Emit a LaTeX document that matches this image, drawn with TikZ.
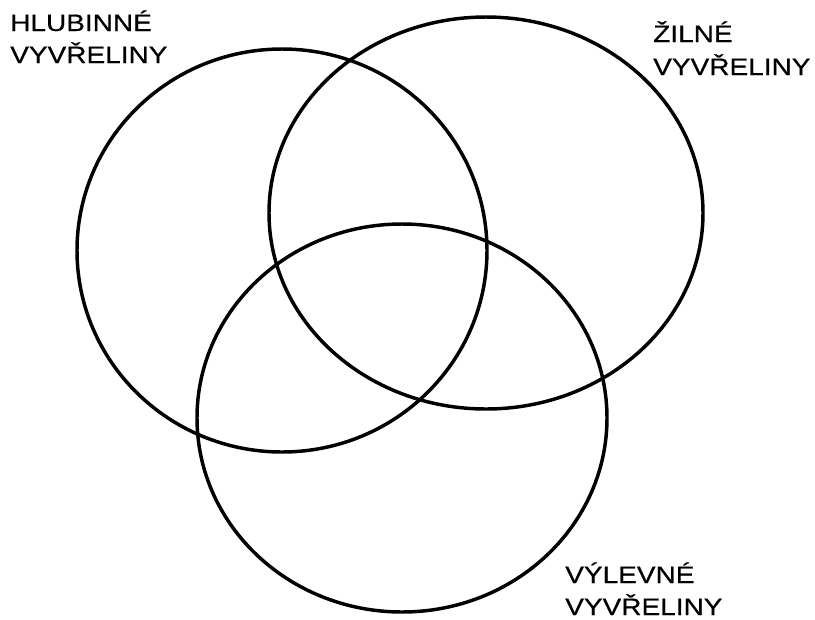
\documentclass[tikz,border=0pt]{standalone}
\usepackage{fontspec}
\setmainfont{Liberation Sans}[FakeStretch=1.18,FakeBold=0.6]
\begin{document}
\begin{tikzpicture}[x=0.75pt,y=-0.75pt,
  setring/.style={draw=black,line width=2.6pt},
  lbl/.style={anchor=base west,inner sep=0pt,font=\fontsize{17.8pt}{24pt}\selectfont}]
\useasboundingbox (0,0) rectangle (815,619);
\fill[white] (0,0) rectangle (815,619);
\draw[setring] (282,250.5) ellipse [x radius=205, y radius=201.5];
\draw[setring] (486,213) ellipse [x radius=217, y radius=196];
\draw[setring] (402,418) ellipse [x radius=205, y radius=194];
\node[lbl] (h1) at (10,31) {HLUBINNÉ};
\node[lbl] (h2) at (10,63) {VYVŘELINY};
\node[lbl] (z1) at (653,42) {ŽILNÉ};
\node[lbl] (z2) at (653,75) {VYVŘELINY};
\node[lbl] (v1) at (565,583) {VÝLEVNÉ};
\node[lbl] (v2) at (565,615) {VYVŘELINY};
\end{tikzpicture}
\end{document}
